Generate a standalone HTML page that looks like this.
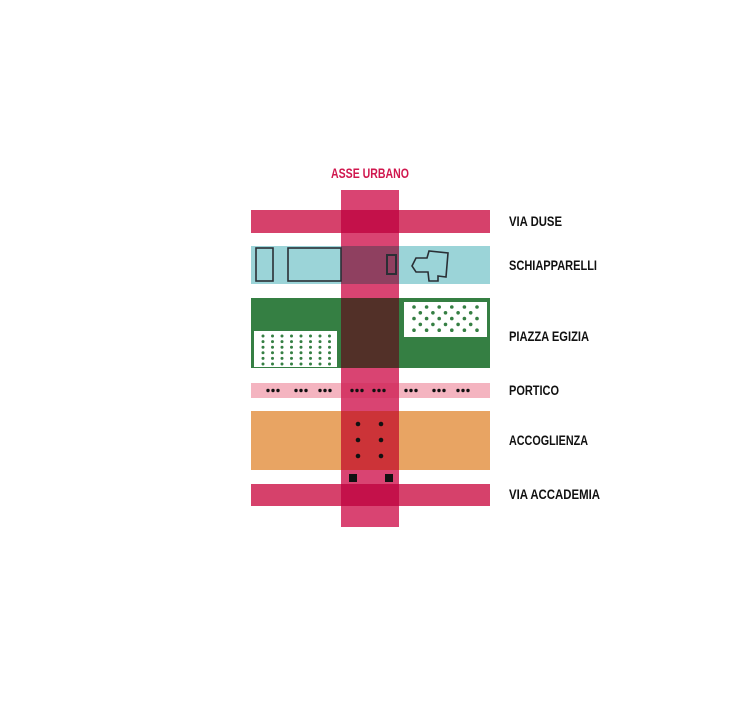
<!DOCTYPE html>
<html><head><style>
body{margin:0;background:#fff}
svg{display:block}
text{font-family:"Liberation Sans",sans-serif;font-weight:bold;font-size:14px;fill:#111}
</style></head><body>
<svg width="740" height="707" viewBox="0 0 740 707">
<rect width="740" height="707" fill="#fff"/>
<text x="331" y="178" textLength="78" lengthAdjust="spacingAndGlyphs" style="fill:#d0174e">ASSE URBANO</text>
<rect x="251" y="210" width="239" height="23" fill="#d6416b"/>
<rect x="251" y="246" width="239" height="38" fill="#9bd4d8"/>
<rect x="251" y="298" width="239" height="70" fill="#357f43"/>
<rect x="254" y="331" width="83" height="36" fill="#fff"/>
<rect x="404" y="302" width="83" height="35" fill="#fff"/>
<rect x="251" y="383" width="239" height="15" fill="#f4b4c0"/>
<rect x="251" y="411" width="239" height="59" fill="#e8a463"/>
<rect x="251" y="484" width="239" height="22" fill="#d6416b"/>
<rect x="341" y="190" width="58" height="337" fill="#d94472"/>
<rect x="341" y="210" width="58" height="23" fill="#c4114a"/>
<rect x="341" y="246" width="58" height="38" fill="#8f4060"/>
<rect x="341" y="298" width="58" height="70" fill="#523028"/>
<rect x="341" y="383" width="58" height="15" fill="#d63a68"/>
<rect x="341" y="411" width="58" height="59" fill="#cc3338"/>
<rect x="341" y="484" width="58" height="22" fill="#c4114a"/>
<g fill="none" stroke="#2a2f35" stroke-width="1.6">
<rect x="256" y="248" width="17" height="33"/>
<rect x="288" y="248" width="53" height="33"/>
<rect x="387" y="255" width="9" height="19" stroke-width="2"/>
<path d="M416 258 L427 258 L429 251 L448 253 L446 277 L438 276 L438 281 L429 281 L428 272 L416 272 L412 266 Z"/>
</g>
<text x="509" y="226" textLength="53" lengthAdjust="spacingAndGlyphs">VIA DUSE</text>
<text x="509" y="270" textLength="88" lengthAdjust="spacingAndGlyphs">SCHIAPPARELLI</text>
<text x="509" y="341" textLength="80" lengthAdjust="spacingAndGlyphs">PIAZZA EGIZIA</text>
<text x="509" y="395" textLength="50" lengthAdjust="spacingAndGlyphs">PORTICO</text>
<text x="509" y="445" textLength="79" lengthAdjust="spacingAndGlyphs">ACCOGLIENZA</text>
<text x="509" y="499" textLength="91" lengthAdjust="spacingAndGlyphs">VIA ACCADEMIA</text>
<g id="gen"></g>
</svg>
<script>
var ns="http://www.w3.org/2000/svg",g=document.getElementById("gen");
function c(x,y,r,f){var e=document.createElementNS(ns,"circle");e.setAttribute("cx",x);e.setAttribute("cy",y);e.setAttribute("r",r);e.setAttribute("fill",f);g.appendChild(e);}
for(var i=0;i<8;i++)for(var j=0;j<6;j++)c(263+i*9.5,336+j*5.6,1.5,"#357f43");
for(var j=0;j<5;j++){var off=j%2?6.3:0,n=j%2?5:6;for(var i=0;i<n;i++)c(414+off+i*12.6,307+j*5.8,1.8,"#357f43");}
var grp=[268,296,320,352,374,406,434,458];
grp.forEach(function(x){for(var k=0;k<3;k++)c(x+k*5,390.5,1.7,"#111");});
for(var j=0;j<3;j++){c(358,424+j*16,2.3,"#111");c(381,424+j*16,2.3,"#111");}
[[349,474],[385,474]].forEach(function(p){var r=document.createElementNS(ns,"rect");r.setAttribute("x",p[0]);r.setAttribute("y",p[1]);r.setAttribute("width",8);r.setAttribute("height",8);r.setAttribute("fill","#111");g.appendChild(r);});
</script>
</body></html>
